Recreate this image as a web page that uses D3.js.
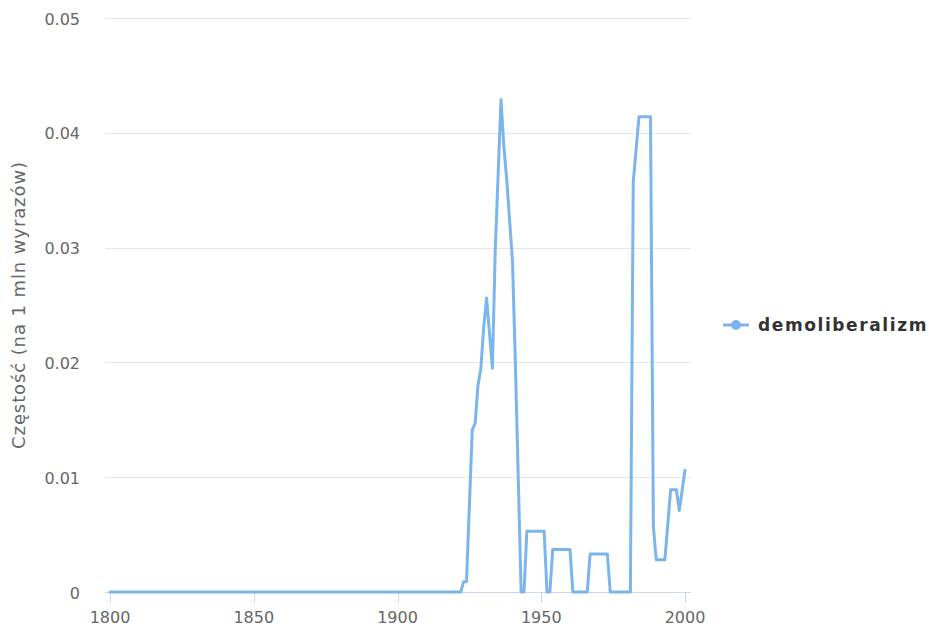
<!DOCTYPE html>
<html>
<head>
<meta charset="utf-8">
<script src="https://cdn.jsdelivr.net/npm/d3@7"></script>
<style>
  body { margin: 0; background: #fff; }
  text { font-family: "DejaVu Sans", sans-serif; }
</style>
</head>
<body>
<div id="chart"></div>
<script>
const seriesName = "demoliberalizm";
const years = [1800, 1922, 1923, 1924, 1926, 1927, 1928, 1929, 1930, 1931, 1933, 1934, 1936, 1937, 1938, 1940, 1941, 1943, 1944, 1945, 1951, 1952, 1953, 1954, 1960, 1961, 1966, 1967, 1973, 1974, 1981, 1982, 1984, 1988, 1989, 1990, 1993, 1995, 1997, 1998, 2000];
const values = [0, 0, 0.0009, 0.0009, 0.0141, 0.0147, 0.018, 0.0195, 0.0231, 0.0256, 0.0195, 0.0298, 0.0429, 0.0388, 0.0359, 0.0288, 0.0199, 0, 0, 0.0053, 0.0053, 0, 0, 0.0037, 0.0037, 0, 0, 0.0033, 0.0033, 0, 0, 0.0357, 0.0414, 0.0414, 0.0057, 0.0028, 0.0028, 0.0089, 0.0089, 0.0071, 0.0106];
const xTicks = [1800, 1850, 1900, 1950, 2000];
const yTicks = [0, 0.01, 0.02, 0.03, 0.04, 0.05];
const yTitle = "Częstość (na 1 mln wyrazów)";

const width = 929,
  height = 629,
  margin = { top: 18, right: 245, bottom: 37, left: 110 },
  color = "#7cb5ec",
  svg = d3.select("#chart").append("svg").attr("width", width).attr("height", height),
  xScale = d3
    .scaleLinear()
    .domain([1800, 2000])
    .range([margin.left, width - margin.right + 1]),
  yScale = d3
    .scaleLinear()
    .domain([0, 0.05])
    .range([height - margin.bottom, margin.top]);

const points = years.map((y, i) => ({ x: y, y: values[i] }));

// grid lines
svg
  .append("g")
  .selectAll("line")
  .data(yTicks.slice(1))
  .join("line")
  .attr("x1", margin.left - 5)
  .attr("x2", width - margin.right + 7)
  .attr("y1", (d) => Math.round(yScale(d)) + 0.5)
  .attr("y2", (d) => Math.round(yScale(d)) + 0.5)
  .attr("stroke", "#e6e6e6");

// y labels
svg
  .append("g")
  .selectAll("text")
  .data(yTicks)
  .join("text")
  .attr("x", 80)
  .attr("y", (d) => yScale(d) + 6.5)
  .attr("text-anchor", "end")
  .attr("font-size", 16)
  .attr("fill", "#666")
  .text((d) => (d === 0 ? "0" : d3.format(".2f")(d)));

svg
  .append("text")
  .attr("transform", `translate(25, ${yScale(0.025)}) rotate(-90)`)
  .attr("text-anchor", "middle")
  .attr("font-size", 18)
  .attr("letter-spacing", 0.9)
  .attr("fill", "#666")
  .text(yTitle);

// x axis
const axisY = Math.round(yScale(0)) + 0.5;
svg
  .append("line")
  .attr("x1", margin.left - 5)
  .attr("x2", width - margin.right + 7)
  .attr("y1", axisY)
  .attr("y2", axisY)
  .attr("stroke", "#ccd6eb");

svg
  .append("g")
  .selectAll("line")
  .data(xTicks)
  .join("line")
  .attr("x1", (d) => Math.round(xScale(d)) + 0.5)
  .attr("x2", (d) => Math.round(xScale(d)) + 0.5)
  .attr("y1", axisY)
  .attr("y2", axisY + 10)
  .attr("stroke", "#ccd6eb");

svg
  .append("g")
  .selectAll("text")
  .data(xTicks)
  .join("text")
  .attr("x", (d) => xScale(d))
  .attr("y", 623)
  .attr("text-anchor", "middle")
  .attr("font-size", 16)
  .attr("fill", "#666")
  .text((d) => d);

// series
const lineGenerator = d3
  .line()
  .x((d) => xScale(d.x))
  .y((d) => yScale(d.y));

svg
  .append("path")
  .attr("d", lineGenerator(points))
  .attr("fill", "none")
  .attr("stroke", color)
  .attr("stroke-width", 3)
  .attr("stroke-linejoin", "round")
  .attr("stroke-linecap", "round");

// legend
const legend = svg.append("g").attr("transform", "translate(723, 325)");
legend
  .append("line")
  .attr("x1", 0)
  .attr("x2", 26)
  .attr("stroke", color)
  .attr("stroke-width", 3);
legend.append("circle").attr("cx", 13).attr("r", 5).attr("fill", color);
legend
  .append("text")
  .attr("x", 35)
  .attr("y", 6)
  .attr("font-size", 17)
  .attr("font-weight", "bold")
  .attr("letter-spacing", 1.6)
  .attr("fill", "#333")
  .text(seriesName);
</script>
</body>
</html>
